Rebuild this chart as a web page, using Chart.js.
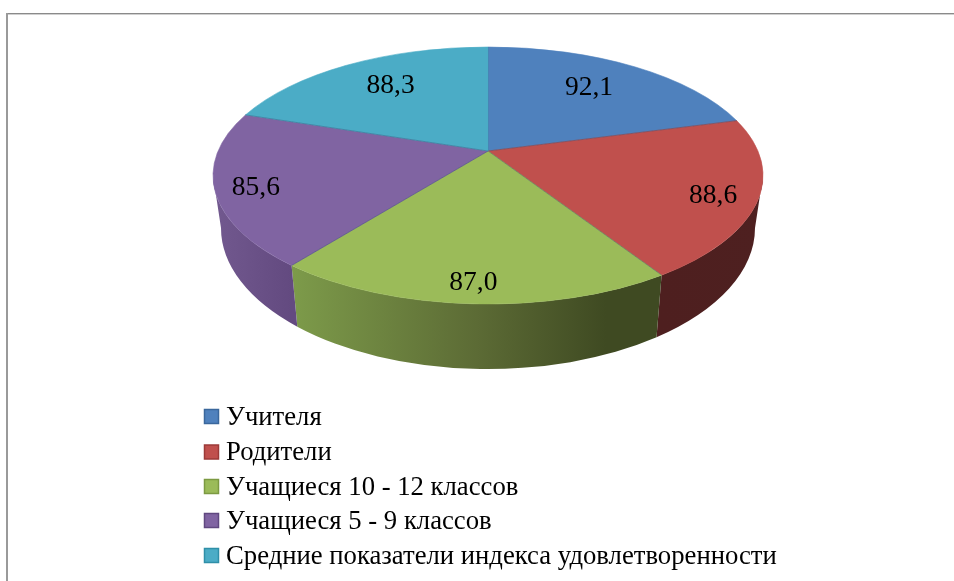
<!DOCTYPE html>
<html><head><meta charset="utf-8">
<script src="https://cdn.jsdelivr.net/npm/chart.js@4"></script>
<style>html,body{margin:0;padding:0;background:#fff}#w{position:relative;width:954px;height:581px}canvas{display:block}</style>
</head><body><div id="w"><canvas id="c" width="954" height="581"></canvas></div>
<script>
const categories = ['Учителя','Родители','Учащиеся 10 - 12 классов','Учащиеся 5 - 9 классов','Средние показатели индекса удовлетворенности'];
const values = [92.1, 88.6, 87.0, 85.6, 88.3];
const faceColors = ['#4f81bd','#c0504d','#9bbb59','#8064a2','#4bacc6'];
const legendEdges = ['#3a679c','#9c3a38','#7c9a42','#604880','#2f8fa8'];
const wallStops = [
  [['#3a5f8c',0],['#3a5f8c',1]],
  [['#4e1f1f',0],['#4e2020',1]],
  [['#7d9b4a',0],['#5c6b35',0.5],['#3f4a22',0.85],['#3f4a22',1]],
  [['#72598f',0],['#634a80',1]],
  [['#37829a',0],['#37829a',1]]
];
const labelReachX = [0.706,0.833,0.91,0.849,0.708];
const labelReachY = [0.744,0.923,0.863,0.965,0.753];
const legendRows = [416.5,452,486.5,520.5,555.5];

const tilt = 0.19, ryTop = 128.5, dyTop = 24.5;
const rxBase = 267, ryBase = 141, dyBase = 77;
const serif = '"Liberation Serif"';

function rimParam(theta){
  const x = Math.sin(theta), y = Math.cos(theta), d = 1 + tilt*y;
  return {x: x*Math.sqrt(1-tilt*tilt)/d, y: (y+tilt)/d};
}
function param(theta){
  const p = rimParam(theta);
  let a = Math.atan2(-p.y, p.x);
  if (a < -Math.PI/2 - 1e-6) a += 2*Math.PI;
  return a;
}
function span(el){
  const t1 = el.startAngle + Math.PI/2, t2 = el.endAngle + Math.PI/2;
  const a1 = param(t1); let a2 = param(t2);
  if (a2 <= a1) a2 += 2*Math.PI;
  return [a1,a2];
}
function drawFace(ctx){
  const el = this, [a1,a2] = span(el), cy = el.y + dyTop;
  ctx.save();
  ctx.beginPath();
  ctx.moveTo(el.x, el.y);
  ctx.ellipse(el.x, cy, el.outerRadius, ryTop, 0, a1, a2);
  ctx.closePath();
  ctx.fillStyle = el.options.backgroundColor;
  ctx.fill();
  ctx.strokeStyle = el.options.backgroundColor;
  ctx.lineWidth = 0.6;
  ctx.stroke();
  ctx.beginPath();
  ctx.moveTo(el.x, el.y);
  ctx.lineTo(el.x + el.outerRadius*Math.cos(a1), cy + ryTop*Math.sin(a1));
  ctx.strokeStyle = 'rgba(40,70,110,0.35)';
  ctx.lineWidth = 1;
  ctx.stroke();
  ctx.restore();
}
const pie3d = {
  id:'pie3d',
  afterDatasetUpdate(chart){
    chart.getDatasetMeta(0).data.forEach(el => { el.draw = drawFace; });
  },
  beforeDatasetsDraw(chart){
    const ctx = chart.ctx;
    ctx.save();
    ctx.fillStyle = '#8a8a8a';
    ctx.fillRect(6,13,948,1.4);
    ctx.fillStyle = '#9a9a9a';
    ctx.fillRect(6,13,2,568);
    ctx.restore();
    chart.getDatasetMeta(0).data.forEach((el,i) => {
      const [a1,a2] = span(el);
      const s = Math.max(a1,0), e = Math.min(a2,Math.PI);
      if (e <= s) return;
      const cyT = el.y + dyTop, cyB = el.y + dyBase;
      const x0 = el.x + el.outerRadius*Math.cos(e), x1 = el.x + el.outerRadius*Math.cos(s);
      const g = ctx.createLinearGradient(x0,0,x1,0);
      wallStops[i].forEach(st => g.addColorStop(st[1], st[0]));
      ctx.save();
      ctx.beginPath();
      ctx.ellipse(el.x, cyT, el.outerRadius, ryTop, 0, s, e);
      ctx.ellipse(el.x, cyB, rxBase, ryBase, 0, e, s, true);
      ctx.closePath();
      ctx.fillStyle = g;
      ctx.fill();
      ctx.restore();
    });
  },
  afterDatasetsDraw(chart){
    const ctx = chart.ctx;
    ctx.save();
    ctx.fillStyle = '#000';
    ctx.textAlign = 'center';
    ctx.textBaseline = 'middle';
    ctx.font = '27.5px ' + serif;
    chart.getDatasetMeta(0).data.forEach((el,i) => {
      const mid = (el.startAngle + el.endAngle)/2 + Math.PI/2;
      const a = param(mid);
      const rx = el.x + el.outerRadius*Math.cos(a), ry = el.y + dyTop + ryTop*Math.sin(a);
      ctx.fillText(values[i].toFixed(1).replace('.',','), el.x + (rx-el.x)*labelReachX[i], el.y + (ry-el.y)*labelReachY[i]);
    });
    ctx.textAlign = 'left';
    ctx.font = '26.7px ' + serif;
    categories.forEach((t,i) => {
      const y = legendRows[i];
      ctx.fillStyle = faceColors[i];
      ctx.fillRect(204.5,y-7,14,14);
      ctx.strokeStyle = legendEdges[i];
      ctx.lineWidth = 1.5;
      ctx.strokeRect(204.5,y-7,14,14);
      ctx.fillStyle = '#000';
      ctx.fillText(t,226,y+1);
    });
    ctx.restore();
  }
};
new Chart(document.getElementById('c'),{
  type:'pie',
  data:{labels:categories,datasets:[{data:values,backgroundColor:faceColors,borderWidth:0,radius:275,clip:false}]},
  options:{
    responsive:false,animation:false,
    layout:{padding:{left:22,right:0,top:0,bottom:279}},
    plugins:{legend:{display:false},tooltip:{enabled:false}}
  },
  plugins:[pie3d]
});
</script>
</body></html>
